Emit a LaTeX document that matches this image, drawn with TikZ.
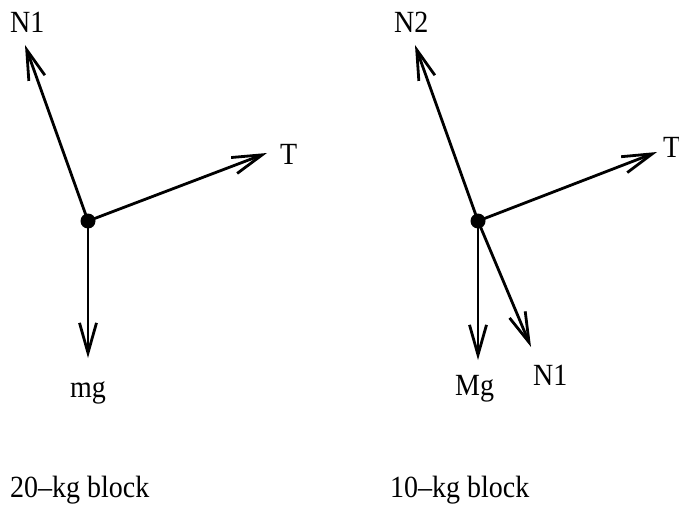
\documentclass[tikz,border=0pt]{standalone}
\usepackage{fontspec}
\setmainfont{Liberation Serif}
\usepackage{tikz}
\usetikzlibrary{arrows.meta, positioning}
\newcommand{\tall}[1]{\scalebox{1}[1.1]{#1}}
\tikzset{
  body/.style={circle, fill=black, inner sep=0pt, minimum size=15pt},
  force/.style={-{Straight Barb[length=30pt, width=17pt, line width=2.8pt]}, line width=2.8pt, black, shorten <=-7pt},
  lbl/.style={anchor=base west, inner sep=0pt, font=\fontsize{28}{32}\selectfont}
}
\begin{document}
\begin{tikzpicture}[x=1pt, y=-1pt]
  \useasboundingbox (0,0) rectangle (679,508);

  % 20-kg block
  \node[body] (m20) at (88,221) {};
  \coordinate (n1a) at (25,45);
  \coordinate (ta) at (267,153);
  \coordinate (mga) at (88,358);
  \draw[force] (m20.center) -- (n1a);
  \draw[force] (m20.center) -- (ta);
  \draw[force] (m20.center) -- (mga);
  \node[lbl] (n1alab) at (10,33) {\tall{N1}};
  \node[lbl] (talab) at (280,164) {\tall{T}};
  \node[lbl] (mgalab) at (70,397) {\tall{mg}};
  \node[lbl] (cap20) at (10,497) {\tall{20–kg block}};

  % 10-kg block
  \node[body] (m10) at (478,221) {};
  \coordinate (n2b) at (415,45);
  \coordinate (tb) at (657,152);
  \coordinate (mgb) at (478,360);
  \coordinate (n1b) at (531,347);
  \draw[force] (m10.center) -- (n2b);
  \draw[force] (m10.center) -- (tb);
  \draw[force] (m10.center) -- (mgb);
  \draw[force] (m10.center) -- (n1b);
  \node[lbl] (n2blab) at (394,33) {\tall{N2}};
  \node[lbl] (tblab) at (663,157) {\tall{T}};
  \node[lbl] (mgblab) at (455,395) {\tall{Mg}};
  \node[lbl] (n1blab) at (533,385) {\tall{N1}};
  \node[lbl] (cap10) at (390,497) {\tall{10–kg block}};
\end{tikzpicture}
\end{document}
